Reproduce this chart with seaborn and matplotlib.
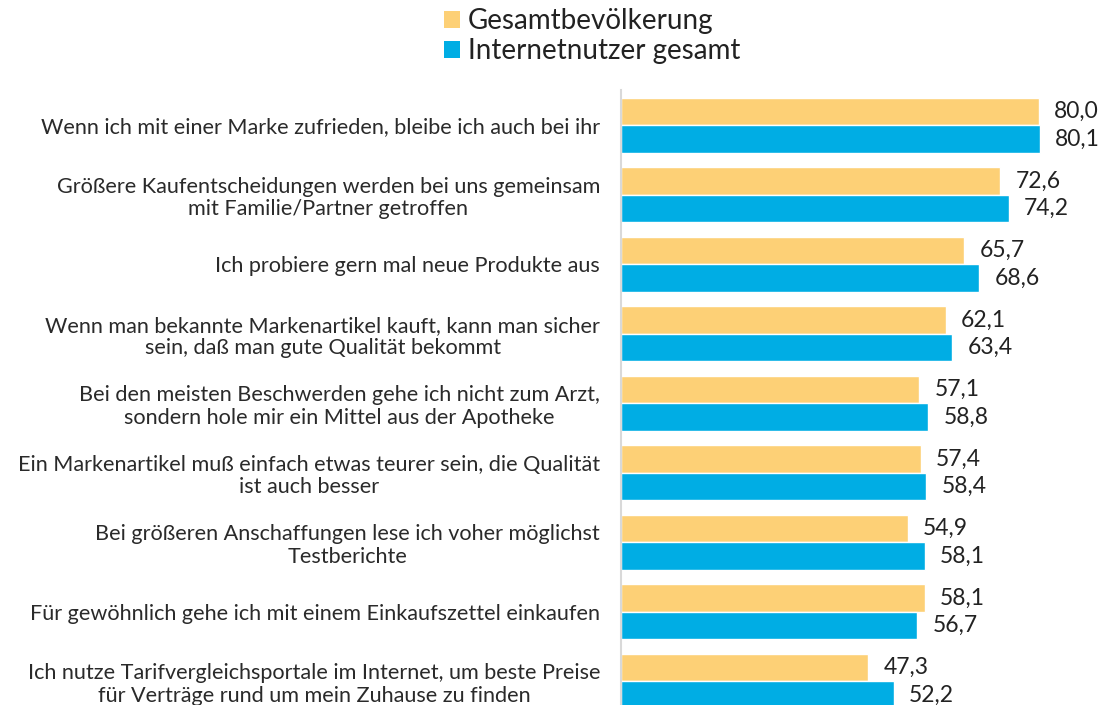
import matplotlib
matplotlib.use("Agg")
import matplotlib.pyplot as plt
import seaborn as sns
import pandas as pd
from matplotlib.patches import Patch

categories = [
    "Wenn ich mit einer Marke zufrieden, bleibe ich auch bei ihr",
    "Größere Kaufentscheidungen werden bei uns gemeinsam\nmit Familie/Partner getroffen",
    "Ich probiere gern mal neue Produkte aus",
    "Wenn man bekannte Markenartikel kauft, kann man sicher\nsein, daß man gute Qualität bekommt",
    "Bei den meisten Beschwerden gehe ich nicht zum Arzt,\nsondern hole mir ein Mittel aus der Apotheke",
    "Ein Markenartikel muß einfach etwas teurer sein, die Qualität\nist auch besser",
    "Bei größeren Anschaffungen lese ich voher möglichst\nTestberichte",
    "Für gewöhnlich gehe ich mit einem Einkaufszettel einkaufen",
    "Ich nutze Tarifvergleichsportale im Internet, um beste Preise\nfür Verträge rund um mein Zuhause zu finden",
]
series_names = ["Gesamtbevölkerung", "Internetnutzer gesamt"]
gesamt = [80.0, 72.6, 65.7, 62.1, 57.1, 57.4, 54.9, 58.1, 47.3]
internet = [80.1, 74.2, 68.6, 63.4, 58.8, 58.4, 58.1, 56.7, 52.2]
colors = ["#FDD076", "#00ADE4"]

df = pd.DataFrame({
    "Kategorie": categories * 2,
    "Wert": gesamt + internet,
    "Gruppe": [series_names[0]] * len(categories) + [series_names[1]] * len(categories),
})

sns.set_theme(style="white")
plt.rcParams["font.family"] = ["Lato", "DejaVu Sans"]

fig = plt.figure(figsize=(11.07, 7.05), dpi=100)
ax = fig.add_axes([621 / 1107, 0, 1 - 621 / 1107, 1 - 90 / 705])

sns.barplot(data=df, y="Kategorie", x="Wert", hue="Gruppe", palette=colors,
            order=categories, hue_order=series_names, orient="h",
            width=0.79, ax=ax, legend=False, saturation=1)

for cont in ax.containers:
    ax.bar_label(cont, labels=[f"{v:.1f}".replace(".", ",") for v in cont.datavalues],
                 padding=11, fontsize=16.5, color="#222222")

ax.set_xlim(0, 93)
ax.set_ylim(8.34, -0.51)
ax.set_xlabel("")
ax.set_ylabel("")
ax.set_xticks([])
for s in ["top", "right", "bottom"]:
    ax.spines[s].set_visible(False)
ax.spines["left"].set_color("#D9D9D9")
ax.spines["left"].set_linewidth(1.5)
ax.tick_params(axis="y", length=0, pad=15, labelsize=15.6, labelcolor="#2a2a2a")
for lab in ax.get_yticklabels():
    lab.set_multialignment("center")
    lab.set_linespacing(1.15)

handles = [Patch(facecolor=c, edgecolor="none") for c in colors]
fig.legend(handles, series_names, loc="upper center", bbox_to_anchor=(0.535, 1.024),
           frameon=False, handlelength=0.55, handleheight=0.55,
           handletextpad=0.3, labelspacing=0.15, prop={"size": 20})
for t in fig.legends[0].get_texts():
    t.set_color("#222222")

fig.savefig("out.png", dpi=100)
